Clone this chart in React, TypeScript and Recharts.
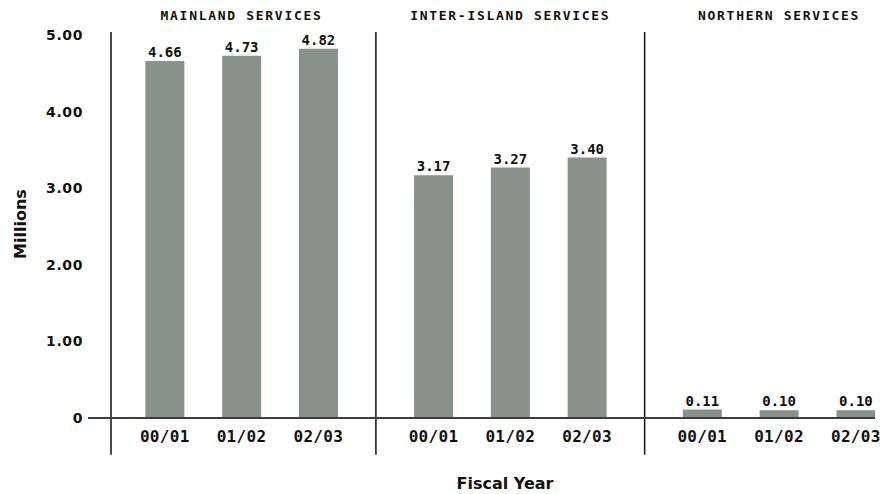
import React from "react";
import {
  BarChart,
  Bar,
  XAxis,
  YAxis,
  ReferenceLine,
  ReferenceDot,
  LabelList,
  Label,
} from "recharts";

// Passengers carried (millions) by service, per fiscal year
const years = ["00/01", "01/02", "02/03"];
const services = ["MAINLAND SERVICES", "INTER-ISLAND SERVICES", "NORTHERN SERVICES"];
const mainland = [4.66, 4.73, 4.82];
const interIsland = [3.17, 3.27, 3.4];
const northern = [0.11, 0.1, 0.1];
const yTicks = [0, 1, 2, 3, 4, 5];

// Each service occupies its own panel; panels sit 3.5 slots apart on a numeric axis
const GROUP_STEP = 3.5;
const groups = [mainland, interIsland, northern];
const rows = groups.flatMap((vals, g) =>
  vals.map((v, i) => ({ pos: g * GROUP_STEP + i, year: years[i], value: v }))
);
const separators = [-0.7, GROUP_STEP - 0.75, 2 * GROUP_STEP - 0.75];

const BAR_COLOR = "#87938a";
const MONO = "'DejaVu Sans Mono', monospace";
const SANS = "'DejaVu Sans', sans-serif";

const YTick = (props: any) => {
  const { y, payload } = props;
  const v = payload.value as number;
  return (
    <text
      x={83}
      y={y}
      dy={5}
      textAnchor="end"
      fontFamily={SANS}
      fontWeight="bold"
      fontSize={14}
      letterSpacing={0.6}
      fill="#111"
    >
      {v === 0 ? "0" : v.toFixed(2)}
    </text>
  );
};

const XTick = (props: any) => {
  const { x, y, payload } = props;
  const row = rows.find((r) => r.pos === payload.value);
  return (
    <text
      x={x}
      y={y}
      dy={16}
      textAnchor="middle"
      fontFamily={MONO}
      fontWeight="bold"
      fontSize={16}
      letterSpacing={0.3}
      fill="#111"
    >
      {row ? row.year : ""}
    </text>
  );
};

const ValueLabel = (props: any) => {
  const { x, y, width, value } = props;
  return (
    <text
      x={x + width / 2}
      y={y - 4}
      textAnchor="middle"
      fontFamily={MONO}
      fontWeight="bold"
      fontSize={14}
      fill="#111"
    >
      {(value as number).toFixed(2)}
    </text>
  );
};

const HeaderLabel = (text: string) => (props: any) => {
  const { viewBox } = props;
  const cx = viewBox.cx ?? viewBox.x + (viewBox.width || 0) / 2;
  return (
    <text
      x={cx}
      y={20}
      textAnchor="middle"
      fontFamily={MONO}
      fontWeight="bold"
      fontSize={13}
      letterSpacing={1.7}
      fill="#111"
    >
      {text}
    </text>
  );
};

export default function App() {
  return (
    <div style={{ position: "absolute", left: 0, top: 0, background: "#fff" }}>
      <BarChart
        width={884}
        height={494}
        data={rows}
        margin={{ top: 35, right: 9, bottom: 36, left: 0 }}
      >
        <XAxis
          type="number"
          dataKey="pos"
          domain={[-0.7, 9.25]}
          ticks={rows.map((r) => r.pos)}
          height={40}
          axisLine={false}
          tickLine={false}
          tick={<XTick />}
          interval={0}
          allowDataOverflow
        >
          <Label
            content={() => (
              <text
                x={505}
                y={489}
                textAnchor="middle"
                fontFamily={SANS}
                fontWeight="bold"
                fontSize={16}
                fill="#111"
              >
                Fiscal Year
              </text>
            )}
          />
        </XAxis>
        <YAxis
          type="number"
          domain={[0, 5]}
          ticks={yTicks}
          width={111}
          axisLine={false}
          tickLine={false}
          tick={<YTick />}
          allowDataOverflow
        >
          <Label
            content={() => (
              <text
                x={26}
                y={224}
                transform="rotate(-90 26 224)"
                textAnchor="middle"
                fontFamily={SANS}
                fontWeight="bold"
                fontSize={16}
                fill="#111"
              >
                Millions
              </text>
            )}
          />
        </YAxis>
        <Bar dataKey="value" fill={BAR_COLOR} barSize={39} isAnimationActive={false}>
          <LabelList dataKey="value" content={<ValueLabel />} />
        </Bar>
        {separators.map((sx) => (
          <ReferenceLine
            key={sx}
            segment={[
              { x: sx, y: 5.04 },
              { x: sx, y: -0.48 },
            ]}
            stroke="#111"
            strokeWidth={1.5}
            ifOverflow="visible"
          />
        ))}
        <ReferenceLine
          segment={[
            { x: -1.0, y: 0 },
            { x: 9.25, y: 0 },
          ]}
          stroke="#3a3f3a"
          strokeWidth={2}
          ifOverflow="visible"
        />
        {services.map((s, g) => (
          <ReferenceDot
            key={s}
            x={g * GROUP_STEP + 1}
            y={5}
            r={0}
            fill="none"
            stroke="none"
            ifOverflow="visible"
            label={HeaderLabel(s)}
          />
        ))}
      </BarChart>
    </div>
  );
}
